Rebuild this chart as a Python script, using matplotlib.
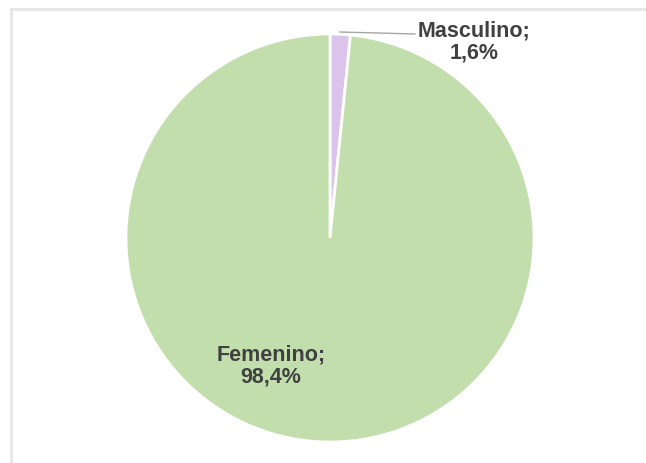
import matplotlib
matplotlib.use("Agg")
import matplotlib.pyplot as plt

labels = ["Masculino", "Femenino"]
values = [1.6, 98.4]
colors = ["#DAC4EC", "#C3DEAD"]

W, H = 646, 463
fig = plt.figure(figsize=(W / 100, H / 100), dpi=100)
ax = fig.add_axes([0, 0, 1, 1])

# light frame (only top and left visible in the original)
ax.plot([10.5, 10.5], [0, H - 8.5], color="#E6E6E6", lw=2)
ax.plot([10.5, W], [H - 8.5, H - 8.5], color="#E6E6E6", lw=2)

cx, cy, r = 330, 463 - 238, 204
ax.pie(values, colors=colors, startangle=90, counterclock=False,
       center=(cx, cy), radius=r, frame=True,
       wedgeprops=dict(edgecolor="white", linewidth=2))
ax.set_xlim(0, W)
ax.set_ylim(0, H)
ax.set_aspect("equal")
ax.axis("off")

txt = dict(fontsize=15.5, fontweight="bold", color="#404040",
           ha="center", va="center", family="Liberation Sans", linespacing=1.05)
ax.text(474, H - 42, f"{labels[0]};\n{values[0]:.1f}%".replace(".", ","), **txt)
ax.text(271, H - 366, f"{labels[1]};\n{values[1]:.1f}%".replace(".", ","), **txt)

# leader line for the small slice
ax.plot([340, 415], [H - 32, H - 34], color="#A6A6A6", lw=1)

fig.savefig("out.png", dpi=100)
